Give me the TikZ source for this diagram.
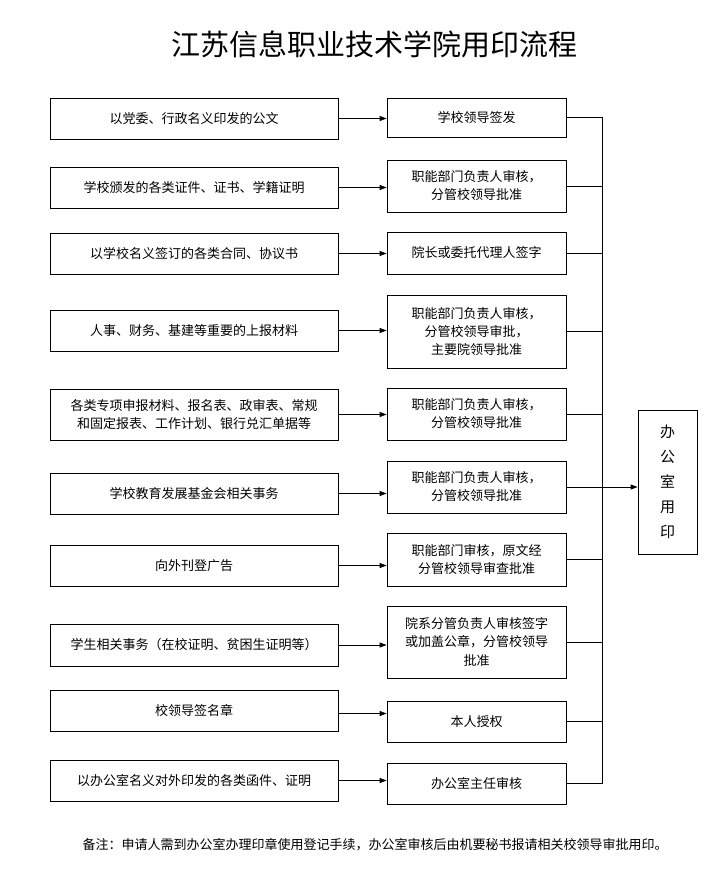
\documentclass[tikz,border=0pt]{standalone}
\usepackage{fontspec}
\setmainfont{Noto Sans CJK SC}
\usetikzlibrary{arrows.meta}
\begin{document}
\begin{tikzpicture}[x=1pt,y=-1pt,
  box/.style={draw,thick,inner sep=0pt,align=center,font=\fontsize{13}{18}\selectfont},
  arr/.style={-{Triangle[length=7pt,width=5pt]},thick}]
\useasboundingbox (0,0) rectangle (722,880);
\node[font=\fontsize{29}{32}\selectfont] (title) at (374,44) {江苏信息职业技术学院用印流程};
\def\lbox#1#2#3#4{\node[box,minimum width=288pt,minimum height=#3pt] (#1) at (194,#2) {#4};}
\def\mbox#1#2#3#4{\node[box,minimum width=179pt,minimum height=#3pt] (#1) at (476.5,#2) {#4};}
\lbox{l1}{118.5}{41}{以党委、行政名义印发的公文}
\lbox{l2}{187.5}{41}{学校颁发的各类证件、证书、学籍证明}
\lbox{l3}{253.5}{41}{以学校名义签订的各类合同、协议书}
\lbox{l4}{330.5}{41}{人事、财务、基建等重要的上报材料}
\lbox{l5}{414.5}{51}{各类专项申报材料、报名表、政审表、常规\\和固定报表、工作计划、银行兑汇单据等}
\lbox{l6}{493.5}{41}{学校教育发展基金会相关事务}
\lbox{l7}{565.5}{41}{向外刊登广告}
\lbox{l8}{645}{42}{学生相关事务（在校证明、贫困生证明等）}
\lbox{l9}{710.5}{41}{校领导签名章}
\lbox{l10}{780.5}{41}{以办公室名义对外印发的各类函件、证明}
\mbox{m1}{117.5}{39}{学校领导签发}
\mbox{m2}{186}{52}{职能部门负责人审核，\\分管校领导批准}
\mbox{m3}{253}{42}{院长或委托代理人签字}
\mbox{m4}{331.5}{73}{职能部门负责人审核，\\分管校领导审批，\\主要院领导批准}
\mbox{m5}{414}{52}{职能部门负责人审核，\\分管校领导批准}
\mbox{m6}{487}{52}{职能部门负责人审核，\\分管校领导批准}
\mbox{m7}{559.5}{53}{职能部门审核，原文经\\分管校领导审查批准}
\mbox{m8}{642}{72}{院系分管负责人审核签字\\或加盖公章，分管校领导\\批准}
\mbox{m9}{721.5}{41}{本人授权}
\mbox{m10}{783.5}{41}{办公室主任审核}
\node[box,minimum width=59pt,minimum height=144pt,font=\fontsize{15}{25}\selectfont] (r) at (667.5,482) {办\\公\\室\\用\\印};
\foreach \i in {1,...,8,10}{\draw[arr] (l\i.east) -- (l\i.east -| m\i.west);}
\draw[arr] ([yshift=-3pt]l9.east) -- ([yshift=-3pt]l9.east -| m9.west);
\coordinate (top) at (602,117.5);
\coordinate (bot) at (602,783.5);
\draw[thick] (top) -- (bot);
\foreach \i in {1,...,10}{\draw[thick] (m\i.east) -- (m\i.east -| top);}
\draw[arr] (m6.east -| top) -- (r.west |- m6.east);
\node[font=\fontsize{13}{15}\selectfont] (note) at (375,845) {备注：申请人需到办公室办理印章使用登记手续，办公室审核后由机要秘书报请相关校领导审批用印。};
\end{tikzpicture}
\end{document}
